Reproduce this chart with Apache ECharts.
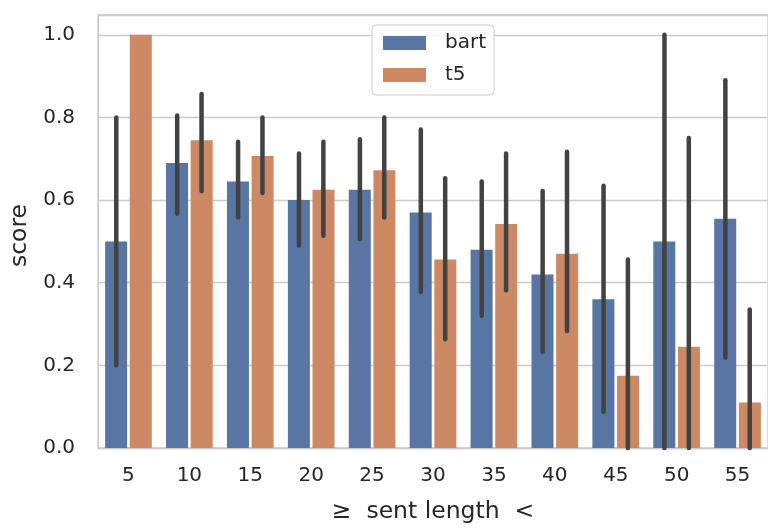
<!DOCTYPE html>
<html>
<head>
<meta charset="utf-8">
<script src="https://cdn.jsdelivr.net/npm/echarts@6/dist/echarts.min.js"></script>
<style>html,body{margin:0;padding:0;background:#fff}#c{width:768px;height:529px}</style>
</head>
<body>
<div id="c"></div>
<script>
const categories = ['5','10','15','20','25','30','35','40','45','50','55'];
const bart = [0.50, 0.69, 0.645, 0.60, 0.625, 0.57, 0.48, 0.42, 0.36, 0.50, 0.555];
const t5 = [1.0, 0.745, 0.707, 0.625, 0.672, 0.456, 0.542, 0.47, 0.175, 0.245, 0.11];
const bartLow = [0.20, 0.567, 0.558, 0.49, 0.506, 0.378, 0.32, 0.233, 0.088, 0.0, 0.219];
const bartHigh = [0.80, 0.805, 0.741, 0.713, 0.747, 0.771, 0.645, 0.622, 0.635, 1.0, 0.89];
const t5Low = [null, 0.622, 0.617, 0.514, 0.558, 0.263, 0.382, 0.283, 0.0, 0.0, 0.0];
const t5High = [null, 0.857, 0.80, 0.741, 0.80, 0.653, 0.713, 0.717, 0.456, 0.75, 0.335];
const yTicks = [0, 0.2, 0.4, 0.6, 0.8, 1.0];

const FONT = 'DejaVu Sans';
const errData = [];
categories.forEach((c, i) => {
  errData.push([i, bartLow[i], bartHigh[i], -1]);
  if (t5Low[i] !== null) errData.push([i, t5Low[i], t5High[i], 1]);
});

const chart = echarts.init(document.getElementById('c'), null, {renderer: 'canvas'});
chart.setOption({
  animation: false,
  backgroundColor: '#ffffff',
  grid: {left: 97, right: -3, top: 15, bottom: 76, show: true, borderColor: '#cccccc', borderWidth: 1.3},
  legend: {
    data: ['bart', 't5'], orient: 'vertical', left: 372, top: 25,
    padding: [8, 8, 10, 11], itemWidth: 43, itemHeight: 14, itemGap: 12,
    backgroundColor: 'rgba(255,255,255,0.85)', borderColor: '#cccccc', borderWidth: 1, borderRadius: 4,
    textStyle: {fontFamily: FONT, fontSize: 20, color: '#262626', padding: [0, 0, 0, 14]},
    icon: 'rect'
  },
  xAxis: {
    type: 'category', data: categories,
    name: '≥  sent length  <', nameLocation: 'middle', nameGap: 52,
    nameTextStyle: {fontFamily: FONT, fontSize: 23.5, color: '#262626'},
    axisLine: {show: true, lineStyle: {color: '#cccccc', width: 1.3}},
    axisTick: {show: false},
    axisLabel: {fontFamily: FONT, fontSize: 20, color: '#262626', margin: 18}
  },
  yAxis: {
    type: 'value', min: 0, max: 1.048, interval: 0.2,
    name: 'score', nameLocation: 'middle', nameGap: 66,
    nameTextStyle: {fontFamily: FONT, fontSize: 23.5, color: '#262626', padding: [0, 8, 0, 0]},
    axisLine: {show: true, lineStyle: {color: '#cccccc', width: 1.3}},
    axisTick: {show: false},
    axisLabel: {fontFamily: FONT, fontSize: 20, color: '#262626', margin: 23,
      formatter: v => yTicks.some(t => Math.abs(t - v) < 1e-9) ? v.toFixed(1) : ''},
    splitLine: {show: true, lineStyle: {color: '#cccccc', width: 1.3}}
  },
  series: [
    {name: 'bart', type: 'bar', data: bart, barWidth: 22, barGap: '12%',
     itemStyle: {color: '#5875a4'}},
    {name: 't5', type: 'bar', data: t5, barWidth: 22, barGap: '12%',
     itemStyle: {color: '#cc8963'}},
    {name: 'err', type: 'custom', data: errData, z: 10,
     renderItem: function (params, api) {
       const idx = api.value(0);
       const band = api.size([1, 0])[0];
       const x = api.coord([idx, 0])[0] + api.value(3) * 0.2 * band;
       const y1 = api.coord([idx, api.value(1)])[1];
       const y2 = api.coord([idx, api.value(2)])[1];
       return {type: 'line', shape: {x1: x, y1: y1, x2: x, y2: y2},
         style: {stroke: '#424242', lineWidth: 4.5, lineCap: 'round'}};
     }}
  ]
});
</script>
</body>
</html>
